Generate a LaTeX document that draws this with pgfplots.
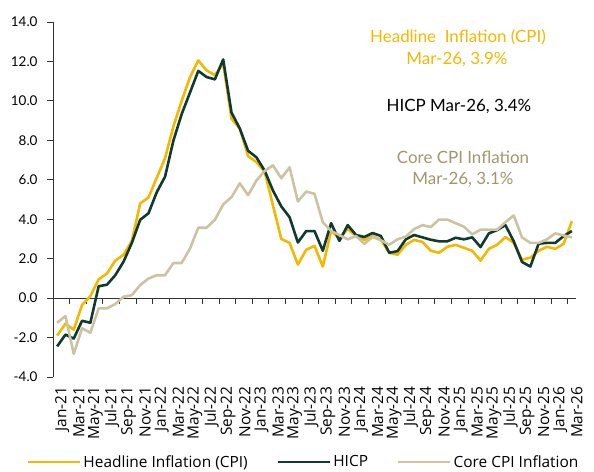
\documentclass[border=0pt]{standalone}
\usepackage{pgfplots}
\pgfplotsset{compat=1.18}
\usepackage{pgfplotstable}
\usepackage{fontspec}
\setmainfont{Open Sans}
\newfontfamily\latofont{Lato}
\definecolor{cpiY}{HTML}{F5B700}
\definecolor{hicpG}{HTML}{0E3A2F}
\definecolor{coreB}{HTML}{CCC3A2}
\definecolor{coreT}{HTML}{A0976A}
\definecolor{axisC}{HTML}{333333}

\pgfplotstableread{
i cpi hicp core
0 -1.9 -2.45 -1.25
1 -1.3 -1.85 -0.91
2 -1.6 -2.05 -2.83
3 -0.35 -1.15 -1.53
4 0.1 -1.25 -1.75
5 0.95 0.6 -0.52
6 1.25 0.68 -0.52
7 1.9 1.16 -0.3
8 2.2 1.85 0.07
9 2.9 2.8 0.15
10 4.8 3.97 0.66
11 5.1 4.3 0.99
12 6.1 5.37 1.16
13 7.1 6.16 1.16
14 8.7 7.98 1.78
15 10.0 9.33 1.78
16 11.2 10.42 2.51
17 12.05 11.52 3.57
18 11.55 11.21 3.57
19 11.3 11.09 3.97
20 11.9 12.1 4.75
21 9.1 9.41 5.12
22 8.6 8.6 5.82
23 7.2 7.47 5.22
24 6.9 7.14 5.96
25 6.4 6.46 6.45
26 4.7 5.45 6.73
27 3.0 4.65 6.08
28 2.8 4.1 6.63
29 1.7 2.82 4.9
30 2.45 3.4 5.4
31 2.65 3.4 5.29
32 1.6 2.4 3.85
33 3.4 3.8 3.4
34 3.05 2.9 3.2
35 3.5 3.7 2.98
36 3.15 3.2 3.15
37 2.95 3.1 2.75
38 3.15 3.3 3.1
39 2.95 3.15 2.93
40 2.3 2.3 2.71
41 2.2 2.38 2.98
42 2.7 2.98 3.12
43 2.95 3.2 3.5
44 2.85 3.08 3.7
45 2.4 2.96 3.6
46 2.3 2.88 3.98
47 2.6 2.88 3.98
48 2.7 3.06 3.8
49 2.55 2.98 3.62
50 2.4 3.08 3.23
51 1.9 2.59 3.47
52 2.5 3.28 3.47
53 2.7 3.45 3.47
54 3.1 3.7 3.85
55 2.8 2.88 4.19
56 1.95 1.83 3.08
57 2.05 1.6 2.8
58 2.4 2.76 2.8
59 2.6 2.8 2.98
60 2.5 2.8 3.28
61 2.75 3.14 3.18
62 3.9 3.4 3.08
}\datatable

\begin{document}
\begin{tikzpicture}
\useasboundingbox (0,0) rectangle (594bp,472bp);
\begin{axis}[
  at={(53bp,95bp)}, anchor=south west,
  scale only axis, width=523bp, height=355bp,
  xmin=-0.5, xmax=62.5, ymin=-4, ymax=14,
  axis x line*=bottom, axis y line*=left,
  x axis line style={draw=none},
  y axis line style={draw=axisC, line width=0.8pt},
  ytick={-4,-2,...,14},
  /pgf/number format/fixed,
  /pgf/number format/fixed zerofill,
  /pgf/number format/precision=1,
  /pgf/number format/assume math mode=true,
  yticklabel style={font=\latofont\fontsize{13.5}{13.5}\selectfont, text=black, xshift=-6bp},
  ytick style={draw=axisC, line width=0.8pt},
  tick align=outside,
  major tick length=6bp,
  xtick={0,2,...,62},
  xticklabels={Jan-21,Mar-21,May-21,Jul-21,Sep-21,Nov-21,Jan-22,Mar-22,May-22,Jul-22,Sep-22,Nov-22,Jan-23,Mar-23,May-23,Jul-23,Sep-23,Nov-23,Jan-24,Mar-24,May-24,Jul-24,Sep-24,Nov-24,Jan-25,Mar-25,May-25,Jul-25,Sep-25,Nov-25,Jan-26,Mar-26},
  xtick style={draw=none},
  xticklabel style={rotate=90, anchor=east, font=\fontsize{15.5}{15.5}\selectfont, text=black, yshift=-5bp},
  legend columns=3,
  legend cell align=left,
  legend style={at={(-0.056,-0.239)}, anchor=west, draw=none, fill=none,
    font=\fontsize{15.5}{16}\selectfont,
    /tikz/every even column/.append style={column sep=27bp}},
  legend image code/.code={\draw[#1] (0bp,0bp) -- (52bp,0bp);},
  every axis plot/.append style={line width=2.6bp, line join=round},
]
\draw[axisC, line width=0.8pt] (axis cs:-0.5,0) -- (axis cs:62.5,0);
\pgfplotsinvokeforeach{1.5,3.5,...,61.5}{
  \draw[axisC, line width=0.8pt] (axis cs:#1,0) -- ++(0bp,-6bp);
}
\addplot[cpiY] table[x=i, y=cpi] {\datatable};
\addlegendentry{Headline Inflation (CPI)}
\addplot[hicpG] table[x=i, y=hicp] {\datatable};
\addlegendentry{HICP}
\addplot[coreB] table[x=i, y=core] {\datatable};
\addlegendentry{Core CPI Inflation}
\end{axis}
\begin{scope}[every node/.style={font=\latofont\fontsize{17}{17}\selectfont, inner sep=0pt}]
\node[text=cpiY] at (458bp,435bp) {Headline\ \ Inflation (CPI)};
\node[text=cpiY] at (457bp,412bp) {Mar-26, 3.9\%};
\node[text=black] at (459bp,365bp) {HICP Mar-26, 3.4\%};
\node[text=coreT] at (463bp,315bp) {Core CPI Inflation};
\node[text=coreT] at (463bp,292bp) {Mar-26, 3.1\%};
\end{scope}
\end{tikzpicture}
\end{document}
